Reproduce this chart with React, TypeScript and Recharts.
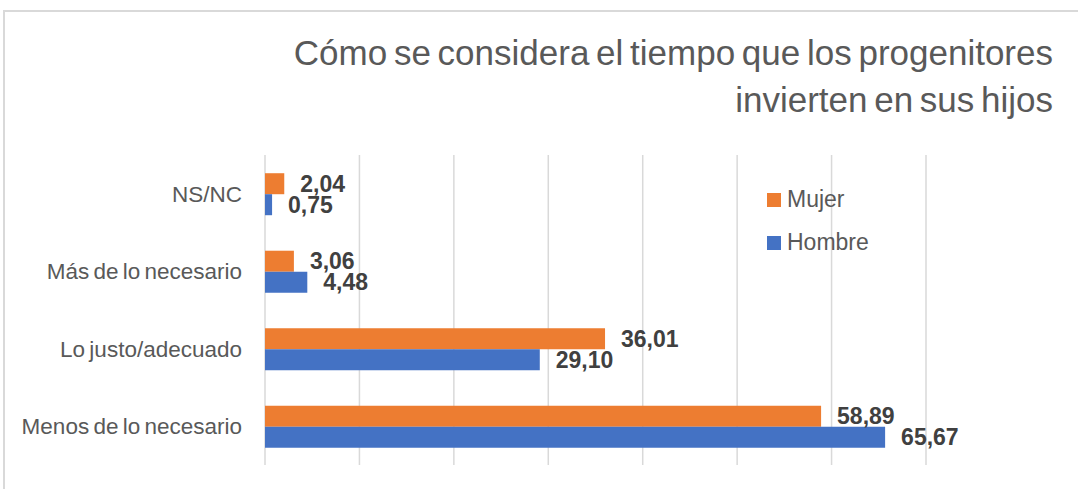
import { BarChart, Bar, XAxis, YAxis, CartesianGrid, Legend, LabelList } from "recharts";

const categories = ["NS/NC", "Más de lo necesario", "Lo justo/adecuado", "Menos de lo necesario"];
const seriesNames = ["Mujer", "Hombre"];
const mujer = [2.04, 3.06, 36.01, 58.89];
const hombre = [0.75, 4.48, 29.1, 65.67];
const xTicks = [0, 10, 20, 30, 40, 50, 60, 70];

const data = categories.map((name, i) => ({ name, Mujer: mujer[i], Hombre: hombre[i] }));

const fmt = (v: any) => Number(v).toFixed(2).replace(".", ",");
const FONT = "'Liberation Sans', Arial, sans-serif";

function CategoryTick(props: any) {
  const { x, y, payload } = props;
  return (
    <text x={x} y={y} dy="0.36em" textAnchor="end" fill="#595959" fontSize={22.5} wordSpacing={-2} fontFamily={FONT}>
      {payload.value}
    </text>
  );
}

// x axis has no visible labels, but its ticks still drive the grid
function NoTick() {
  return <g />;
}

function LegendBox(props: any) {
  const items = [...(props.payload || [])].sort(
    (a: any, b: any) => seriesNames.indexOf(a.value) - seriesNames.indexOf(b.value)
  );
  return (
    <div style={{ fontFamily: FONT }}>
      {items.map((p: any) => (
        <div key={p.value} style={{ display: "flex", alignItems: "center", height: 43 }}>
          <span style={{ width: 14, height: 14, background: p.color, display: "inline-block", marginRight: 6 }} />
          <span style={{ fontSize: 23, color: "#595959" }}>{p.value}</span>
        </div>
      ))}
    </div>
  );
}

const labelStyle = { fontWeight: "bold", fontSize: 23, fill: "#404040", fontFamily: FONT };

export default function App() {
  return (
    <div style={{ position: "absolute", left: 0, top: 0, width: 1078, height: 489, overflow: "hidden", background: "#fff" }}>
      <div style={{ position: "absolute", left: 3, top: 10, width: 1100, height: 500, border: "2px solid #d9d9d9" }} />
      <div
        style={{
          position: "absolute",
          right: 25,
          top: 29,
          textAlign: "right",
          fontFamily: FONT,
          fontSize: 35,
          lineHeight: "47px",
          wordSpacing: -3,
          color: "#595959",
          whiteSpace: "nowrap",
        }}
      >
        Cómo se considera el tiempo que los progenitores
        <br />
        invierten en sus hijos
      </div>
      <BarChart
        width={1078}
        height={489}
        data={data}
        layout="vertical"
        margin={{ top: 155, right: 152, bottom: 0, left: 0 }}
        barCategoryGap="23.5%"
        barGap={0}
        style={{ position: "absolute", left: 0, top: 0 }}
      >
        <CartesianGrid horizontal={false} stroke="#d9d9d9" strokeWidth={1.5} />
        <XAxis
          type="number"
          domain={[0, 70]}
          ticks={xTicks}
          interval={0}
          tick={<NoTick />}
          axisLine={false}
          tickLine={false}
          height={24}
        />
        <YAxis
          type="category"
          dataKey="name"
          width={265}
          axisLine={false}
          tickLine={false}
          tickSize={0}
          tickMargin={23}
          tick={<CategoryTick />}
        />
        <Legend
          layout="vertical"
          align="center"
          verticalAlign="middle"
          wrapperStyle={{ left: 767, top: 178, width: 160 }}
          content={<LegendBox />}
        />
        <Bar dataKey="Mujer" fill="#ED7D31" isAnimationActive={false}>
          <LabelList dataKey="Mujer" position="right" offset={16} formatter={fmt} style={labelStyle} />
        </Bar>
        <Bar dataKey="Hombre" fill="#4472C4" isAnimationActive={false}>
          <LabelList dataKey="Hombre" position="right" offset={16} formatter={fmt} style={labelStyle} />
        </Bar>
      </BarChart>
    </div>
  );
}
